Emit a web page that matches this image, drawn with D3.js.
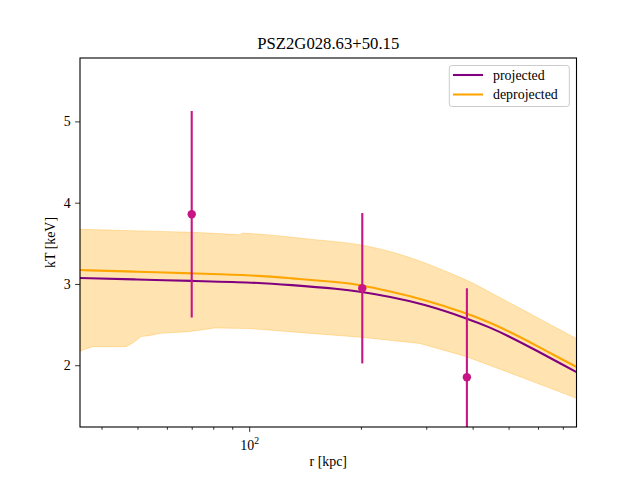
<!DOCTYPE html>
<html>
<head>
<meta charset="utf-8">
<script src="https://cdn.jsdelivr.net/npm/d3@7"></script>
<style>
  html, body { margin: 0; padding: 0; background: #fff; }
  svg { display: block; }
  text { font-family: "Liberation Serif", "DejaVu Serif", serif; fill: #000; }
</style>
</head>
<body>
<svg id="chart" width="640" height="480"></svg>
<script>
// ---- data ----
const titleText = "PSZ2G028.63+50.15";
const xLabel = "r [kpc]";
const yLabel = "kT [keV]";
const seriesNames = ["projected", "deprojected"];

const rCurve   = [35, 50, 70, 100, 129, 176, 199, 239, 294, 386, 446, 500, 600, 700, 762];
const kTproj   = [3.073, 3.055, 3.038, 3.021, 2.988, 2.938, 2.905, 2.845, 2.755, 2.578, 2.464, 2.358, 2.171, 2.006, 1.916];
const kTdeproj = [3.171, 3.150, 3.130, 3.111, 3.070, 3.021, 2.988, 2.911, 2.812, 2.639, 2.525, 2.419, 2.232, 2.067, 1.979];

const rUpper  = [35, 50, 70, 90, 94, 96, 100, 150, 200, 250, 300, 350, 400, 450, 500, 600, 700, 762];
const kTupper = [3.673, 3.653, 3.635, 3.610, 3.605, 3.625, 3.621, 3.545, 3.480, 3.375, 3.253, 3.128, 3.011, 2.887, 2.776, 2.582, 2.417, 2.327];
const rLower  = [35, 35.85, 37.9, 46.5, 48.6, 51.1, 54.0, 57.8, 68.4, 74.1, 80.8, 100, 138.4, 200.8, 288.4, 385.5, 536.7, 638, 762];
const kTlower = [2.169, 2.194, 2.228, 2.228, 2.274, 2.352, 2.366, 2.393, 2.413, 2.434, 2.459, 2.452, 2.401, 2.344, 2.268, 2.105, 1.859, 1.729, 1.594];

const obsR   = [70, 201.7, 386];
const obsKT  = [3.857, 2.947, 1.852];
const obsErr = [1.27, 0.925, 1.095];

const xDomain = [35, 762];
const yDomain = [1.24, 5.78];
const xMajorTicks = [100];
const xMinorTicks = [40, 50, 60, 70, 80, 90, 200, 300, 400, 500, 600, 700];
const yTicks = [2, 3, 4, 5];

// ---- layout ----
const L = 80, R = 576.5, T = 58, B = 427;
const svg = d3.select("#chart");
const x = d3.scaleLog().domain(xDomain).range([L, R]);
const y = d3.scaleLinear().domain(yDomain).range([B, T]);

svg.append("defs").append("clipPath").attr("id", "clip")
  .append("rect").attr("x", L).attr("y", T).attr("width", R - L).attr("height", B - T);

const plot = svg.append("g").attr("clip-path", "url(#clip)");

// band
const upperPts = rUpper.map((r, i) => [x(r), y(kTupper[i])]);
const lowerPts = rLower.map((r, i) => [x(r), y(kTlower[i])]).reverse();
const upperPath = d3.line().curve(d3.curveMonotoneX)(upperPts);
const lowerPath = d3.line()(lowerPts).replace(/^M/, "L");
plot.append("path")
  .attr("d", upperPath + lowerPath + "Z")
  .attr("fill", "orange").attr("fill-opacity", 0.3)
  .attr("stroke", "orange").attr("stroke-opacity", 0.3).attr("stroke-width", 1);

// lines
const line = d3.line().x(d => x(d[0])).y(d => y(d[1])).curve(d3.curveBasis);
plot.append("path").datum(rCurve.map((r, i) => [r, kTproj[i]]))
  .attr("d", line).attr("fill", "none").attr("stroke", "purple").attr("stroke-width", 2.08);
plot.append("path").datum(rCurve.map((r, i) => [r, kTdeproj[i]]))
  .attr("d", line).attr("fill", "none").attr("stroke", "orange").attr("stroke-width", 2.08);

// error bars
const ebColor = "#c71585";
obsR.forEach((r, i) => {
  plot.append("line")
    .attr("x1", x(r)).attr("x2", x(r))
    .attr("y1", y(obsKT[i] - obsErr[i])).attr("y2", y(obsKT[i] + obsErr[i]))
    .attr("stroke", ebColor).attr("stroke-width", 2.08);
  plot.append("circle")
    .attr("cx", x(r)).attr("cy", y(obsKT[i])).attr("r", 4.2)
    .attr("fill", ebColor);
});

// axes
const xMinor = svg.append("g").attr("transform", `translate(0,${B})`)
  .call(d3.axisBottom(x).tickValues(xMinorTicks).tickSize(2.8).tickFormat(""));
const xMajor = svg.append("g").attr("transform", `translate(0,${B})`)
  .call(d3.axisBottom(x).tickValues(xMajorTicks).tickSize(4.9).tickPadding(4).tickFormat(""));
[xMinor, xMajor].forEach(g => {
  g.select(".domain").remove();
  g.selectAll("line").attr("stroke", "#000").attr("stroke-width", 0.8);
});
xMajor.selectAll(".tick").each(function(d) {
  const t = d3.select(this).append("text")
    .attr("y", 23).attr("text-anchor", "middle").attr("font-size", 13.9).attr("fill", "#000");
  const e = Math.round(Math.log10(d));
  t.append("tspan").text("10");
  t.append("tspan").attr("dy", -6).attr("font-size", 9.7).text(String(e));
});

const yAxis = svg.append("g").attr("transform", `translate(${L},0)`)
  .call(d3.axisLeft(y).tickValues(yTicks).tickSize(4.9).tickPadding(4.5).tickFormat(d3.format("d")));
yAxis.select(".domain").remove();
yAxis.selectAll("line").attr("stroke", "#000").attr("stroke-width", 0.8);
yAxis.selectAll("text").attr("font-size", 13.9).attr("font-family", "Liberation Serif, serif");

// frame
svg.append("rect").attr("x", L).attr("y", T).attr("width", R - L).attr("height", B - T)
  .attr("fill", "none").attr("stroke", "#000").attr("stroke-width", 1.1);

// title and labels
svg.append("text").attr("x", (L + R) / 2).attr("y", 49).attr("text-anchor", "middle")
  .attr("font-size", 16.7).text(titleText);
svg.append("text").attr("x", (L + R) / 2).attr("y", 466).attr("text-anchor", "middle")
  .attr("font-size", 13.9).text(xLabel);
svg.append("text").attr("transform", `translate(55,${(T + B) / 2}) rotate(-90)`)
  .attr("text-anchor", "middle").attr("font-size", 13.9).text(yLabel);

// legend
const lg = svg.append("g");
lg.append("rect").attr("x", 449.3).attr("y", 65.5).attr("width", 120).attr("height", 41)
  .attr("rx", 2.5).attr("fill", "#fff").attr("fill-opacity", 0.8)
  .attr("stroke", "#cccccc").attr("stroke-width", 1);
const legColors = ["purple", "orange"];
seriesNames.forEach((name, i) => {
  const yy = 75 + i * 19.5;
  lg.append("line").attr("x1", 453).attr("x2", 483).attr("y1", yy).attr("y2", yy)
    .attr("stroke", legColors[i]).attr("stroke-width", 2.08);
  lg.append("text").attr("x", 493).attr("y", yy + 4.5).attr("font-size", 13.9).text(name);
});
</script>
</body>
</html>
